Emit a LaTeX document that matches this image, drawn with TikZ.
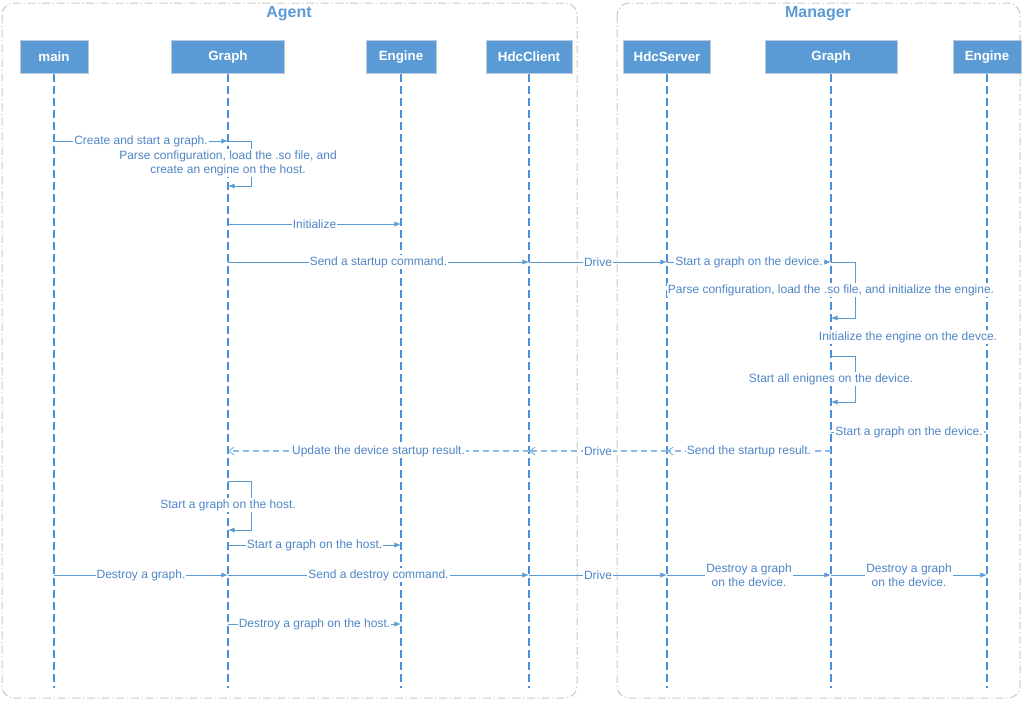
\documentclass[tikz,border=0pt]{standalone}
\usepackage{fontspec}
\setmainfont{Liberation Sans}
\usetikzlibrary{arrows.meta}
\definecolor{hfill}{HTML}{5B9BD5}
\definecolor{hdraw}{HTML}{B9C9DB}
\definecolor{lline}{HTML}{4A90D9}
\definecolor{mline}{HTML}{5B9BD5}
\definecolor{ltext}{HTML}{4F86C6}
\definecolor{rline}{HTML}{8DBBE8}
\definecolor{frame}{HTML}{C8C8C8}
\tikzset{
  head/.style={draw=hdraw, fill=hfill, text=white, font=\bfseries\fontsize{10}{12}\selectfont, minimum height={33*0.75pt}, inner sep=0pt},
  lifeline/.style={draw=lline, dash pattern=on 6pt off 3pt, line width=0.8pt},
  msg/.style={draw=mline, line width=0.75pt, -{Latex[length=5pt,width=4pt]}},
  ret/.style={draw=rline, line width=0.8pt, dash pattern=on 4.5pt off 3pt, -{Straight Barb[length=4pt,width=6pt]}},
  lbl/.style={fill=white, text=ltext, font=\fontsize{9}{10.5}\selectfont, inner sep=0.8pt, align=center},
  frm/.style={draw=frame, dash pattern=on 6pt off 2pt on 1pt off 2pt, rounded corners=9pt, line width=0.75pt},
  ttl/.style={text=hfill, font=\bfseries\fontsize{12}{14}\selectfont}
}
\begin{document}
\begin{tikzpicture}[x=0.75pt,y=-0.75pt]
\useasboundingbox (0,0) rectangle (1030,701);
% frames
\draw[frm] (2,3) rectangle (577,698);
\draw[frm] (617,3) rectangle (1020,698);
\node[ttl] (tA) at (289,14) {Agent};
\node[ttl] (tM) at (818,14) {Manager};
% heads
\node[head, minimum width={68*0.75pt}] (main) at (54,57) {main};
\node[head, minimum width={113*0.75pt}] (graph) at (228,57) {Graph};
\node[head, minimum width={70*0.75pt}] (engine) at (401,57) {Engine};
\node[head, minimum width={86*0.75pt}] (client) at (529,57) {HdcClient};
\node[head, minimum width={87*0.75pt}] (server) at (667,57) {HdcServer};
\node[head, minimum width={132*0.75pt}] (graphm) at (831,57) {Graph};
\node[head, minimum width={68*0.75pt}] (enginem) at (987,57) {Engine};
% lifeline ends
\coordinate (bot) at (0,688);
\foreach \n in {main,graph,engine,client,server,graphm,enginem}{
  \draw[lifeline] (\n.south) -- (\n |- bot);
}
% rows
\coordinate (r1) at (0,141);
\coordinate (r1b) at (0,186);
\coordinate (r2) at (0,224);
\coordinate (r3) at (0,262);
\coordinate (r3b) at (0,318);
\coordinate (r4) at (0,356);
\coordinate (r4b) at (0,402);
\coordinate (r5) at (0,432);
\coordinate (r6) at (0,451);
\coordinate (r7) at (0,481);
\coordinate (r7b) at (0,530);
\coordinate (r8) at (0,545);
\coordinate (r9) at (0,575);
\coordinate (r10) at (0,624);
% messages
\draw[msg] (main |- r1) -- node[lbl]{Create and start a graph.} (graph |- r1);
\draw[msg] (graph |- r1) -| ([xshift={23*0.75pt}]graph |- r1b) -- (graph |- r1b);
\node[lbl] (l1) at (228,163) {Parse configuration, load the .so file, and\\create an engine on the host.};
\draw[msg] (graph |- r2) -- node[lbl]{Initialize} (engine |- r2);
\draw[msg] (graph |- r3) -- node[lbl]{Send a startup command.} (client |- r3);
\draw[msg] (client |- r3) -- node[lbl]{Drive} (server |- r3);
\draw[msg] (server |- r3) -- node[lbl]{Start a graph on the device.} (graphm |- r3);
\draw[msg] (graphm |- r3) -| ([xshift={24*0.75pt}]graphm |- r3b) -- (graphm |- r3b);
\node[lbl] (l2) at (831,290) {Parse configuration, load the .so file, and initialize the engine.};
\node[lbl] (l3) at (908,337) {Initialize the engine on the devce.};
\draw[msg] (graphm |- r4) -| ([xshift={24*0.75pt}]graphm |- r4b) -- (graphm |- r4b);
\node[lbl] (l4) at (831,379) {Start all enignes on the device.};
\draw[msg] (graphm |- r5) -- node[lbl]{Start a graph on the device.} (enginem |- r5);
\draw[ret] (graphm |- r6) -- node[lbl]{Send the startup result.} (server |- r6);
\draw[ret] (server |- r6) -- node[lbl]{Drive} (client |- r6);
\draw[ret] (client |- r6) -- node[lbl]{Update the device startup result.} (graph |- r6);
\draw[msg] (graph |- r7) -| ([xshift={23*0.75pt}]graph |- r7b) -- (graph |- r7b);
\node[lbl] (l5) at (228,505) {Start a graph on the host.};
\draw[msg] (graph |- r8) -- node[lbl]{Start a graph on the host.} (engine |- r8);
\draw[msg] (main |- r9) -- node[lbl]{Destroy a graph.} (graph |- r9);
\draw[msg] (graph |- r9) -- node[lbl]{Send a destroy command.} (client |- r9);
\draw[msg] (client |- r9) -- node[lbl]{Drive} (server |- r9);
\draw[msg] (server |- r9) -- node[lbl]{Destroy a graph\\on the device.} (graphm |- r9);
\draw[msg] (graphm |- r9) -- node[lbl]{Destroy a graph\\on the device.} (enginem |- r9);
\draw[msg] (graph |- r10) -- node[lbl]{Destroy a graph on the host.} (engine |- r10);
\end{tikzpicture}
\end{document}
